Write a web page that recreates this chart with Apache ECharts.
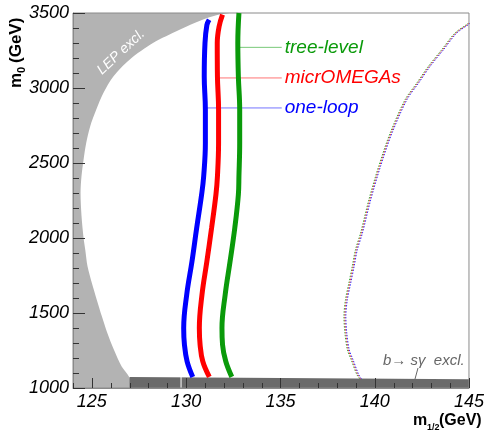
<!DOCTYPE html>
<html>
<head>
<meta charset="utf-8">
<script src="https://cdn.jsdelivr.net/npm/echarts@6/dist/echarts.min.js"></script>
<style>
  html, body { margin: 0; padding: 0; background: #fff; }
  #chart { width: 487px; height: 433px; }
</style>
</head>
<body>
<div id="chart"></div>
<script>
// axis ticks
var xTicks = [125, 130, 135, 140, 145];
var yTicks = [1000, 1500, 2000, 2500, 3000, 3500];
var xMinorStep = 1, yMinorStep = 100;

// LEP excluded region: boundary (m1/2, m0), closed outside the frame
var lepX = [123, 133.2, 132.3, 131.6, 130.87, 129.65, 128.24, 127.0, 126.14, 125.61, 125.23, 124.91, 124.7, 124.56, 124.45,
            124.4, 124.45, 124.56, 124.65, 124.77, 125.0, 125.26, 125.53, 125.82, 126.17, 126.58, 126.98, 127.2, 123];
var lepY = [3600, 3530, 3500, 3485, 3455, 3389, 3300, 3189, 3077, 2967, 2855, 2744, 2633, 2522, 2411,
            2300, 2150, 2000, 1922, 1811, 1700, 1589, 1478, 1367, 1255, 1144, 1073, 960, 900];

// b -> s gamma excluded band
var bsgX = [127.0, 127.0, 145, 145];
var bsgY = [1000, 1074, 1058, 1000];
var bandGapX = 129.73;

// relic density contours (thick)
var oneLoopX = [130.35, 130.05, 129.91, 129.87, 130.03, 130.31, 130.56, 130.82, 130.93, 131.02, 131.02, 130.96, 131.0, 131.1, 131.22];
var oneLoopY = [1074, 1178, 1289, 1400, 1622, 1844, 2067, 2289, 2411, 2633, 2855, 3077, 3300, 3420, 3455];
var microX = [131.23, 130.88, 130.74, 130.7, 130.84, 131.1, 131.35, 131.58, 131.66, 131.72, 131.72, 131.66, 131.65, 131.75, 131.93];
var microY = [1074, 1178, 1289, 1400, 1622, 1844, 2067, 2289, 2411, 2633, 2855, 3077, 3300, 3411, 3489];
var treeX = [132.42, 132.1, 131.93, 131.9, 132.07, 132.33, 132.58, 132.77, 132.8, 132.84, 132.84, 132.77, 132.74, 132.8];
var treeY = [1074, 1178, 1289, 1400, 1622, 1844, 2067, 2289, 2411, 2633, 2855, 3077, 3300, 3500];

// thin dotted contours on the right
var dotX = [139.25, 139.1, 138.8, 138.6, 138.47, 138.42, 138.5, 138.68, 138.86, 139.03, 139.3, 139.74, 140.26, 140.87, 141.66, 142.28, 142.89, 143.6, 144.3, 144.91, 145.0];
var dotY = [1062, 1090, 1189, 1255, 1367, 1478, 1589, 1700, 1811, 1922, 2033, 2255, 2478, 2700, 2922, 3033, 3144, 3255, 3366, 3422, 3432];
var dotShift = { tree: -0.05, micro: 0, loop: 0.05 };

// legend pointer lines
var legendEndX = 135.07;
var legendTree = [[132.8, 3271], [legendEndX, 3271]];
var legendMicro = [[131.66, 3067], [legendEndX, 3067]];
var legendLoop = [[131.0, 2867], [legendEndX, 2867]];

var xMin = 124, xMax = 145, yMin = 1000, yMax = 3500;
var green = '#0a9a0a', red = '#ff0000', blue = '#0000ff';
var tickColor = '#333333';
var font = '"Liberation Sans", Arial, sans-serif';

function pairs(xs, ys, dx) {
  return xs.map(function (x, i) { return [x + (dx || 0), ys[i]]; });
}

function polygon(name, xs, ys, color, z, smooth) {
  return {
    type: 'custom', name: name, silent: true, z: z, clip: true,
    data: pairs(xs, ys),
    renderItem: function (params, api) {
      if (params.dataIndex !== 0) return null;
      var pts = xs.map(function (x, i) { return api.coord([x, ys[i]]); });
      return { type: 'polygon', shape: { points: pts, smooth: smooth || 0 }, style: { fill: color } };
    }
  };
}

function curve(xs, ys, color, z) {
  return {
    type: 'line', data: pairs(xs, ys), smooth: 0.4, symbol: 'none', z: z,
    lineStyle: { color: color, width: 5 }
  };
}

function dotted(dx, color) {
  return {
    type: 'line', data: pairs(dotX, dotY, dx), smooth: 0.3, symbol: 'none', z: 4,
    lineStyle: { color: color, width: 1, type: [1.5, 1.5], opacity: 0.8 }
  };
}

function pointer(pts, color, text) {
  return {
    type: 'line', data: pts, symbol: 'none', z: 3,
    lineStyle: { color: color, width: 1, opacity: 0.55 },
    endLabel: {
      show: true, formatter: text, color: color, distance: 3,
      fontFamily: font, fontStyle: 'italic', fontSize: 19
    }
  };
}

// inside ticks, drawn on top of the filled regions
function tickLine(x1, y1, x2, y2) {
  return { type: 'line', shape: { x1: x1, y1: y1, x2: x2, y2: y2 }, style: { stroke: tickColor, lineWidth: 1 } };
}
var tickSeries = {
  type: 'custom', silent: true, z: 20, data: [[xMin, yMin]],
  renderItem: function (params, api) {
    var kids = [], v, p;
    for (v = xMin; v <= xMax; v += xMinorStep) {
      p = api.coord([v, yMin]);
      var len = xTicks.indexOf(v) >= 0 ? 10 : 5;
      kids.push(tickLine(Math.round(p[0]) + 0.5, p[1], Math.round(p[0]) + 0.5, p[1] - len));
    }
    for (v = yMin; v <= yMax; v += yMinorStep) {
      p = api.coord([xMin, v]);
      var len2 = yTicks.indexOf(v) >= 0 ? 12 : 6;
      kids.push(tickLine(p[0], Math.round(p[1]) + 0.5, p[0] + len2, Math.round(p[1]) + 0.5));
    }
    return { type: 'group', children: kids };
  }
};

var chart = echarts.init(document.getElementById('chart'));
chart.setOption({
  animation: false,
  grid: { left: 73, right: 15, top: 13, bottom: 45, show: true, borderColor: '#8a8a8a', borderWidth: 1, backgroundColor: 'transparent' },
  xAxis: {
    type: 'value', min: xMin, max: xMax, position: 'bottom',
    axisLine: { show: true, lineStyle: { color: '#8a8a8a' } },
    axisTick: { show: false },
    axisLabel: { customValues: xTicks, color: '#000', fontFamily: font, fontStyle: 'italic', fontSize: 18, margin: 5 },
    splitLine: { show: false }
  },
  yAxis: {
    type: 'value', min: yMin, max: yMax, interval: 500,
    axisLine: { show: true, lineStyle: { color: '#8a8a8a' } },
    axisTick: { show: false },
    axisLabel: {
      color: '#000', fontFamily: font, fontStyle: 'italic', fontSize: 18, margin: 4,
      formatter: function (v) { return String(v); }
    },
    splitLine: { show: false }
  },
  series: [
    polygon('LEP', lepX, lepY, '#b3b3b3', -2, 0.3),
    polygon('bsg', bsgX, bsgY, '#6a6a6a', -2, 0),
    {
      type: 'line', data: [[bandGapX, 1000], [bandGapX, 1074]], symbol: 'none', z: -1,
      lineStyle: { color: '#ffffff', width: 1 }
    },
    pointer(legendTree, green, 'tree-level'),
    pointer(legendMicro, red, 'micrOMEGAs'),
    pointer(legendLoop, blue, 'one-loop'),
    dotted(dotShift.tree, green),
    dotted(dotShift.micro, red),
    dotted(dotShift.loop, blue),
    curve(oneLoopX, oneLoopY, blue, 5),
    curve(microX, microY, red, 5),
    curve(treeX, treeY, green, 5),
    tickSeries
  ],
  graphic: [
    { type: 'text', x: 121, y: 52, rotation: 43 * Math.PI / 180, silent: true,
      style: { text: 'LEP excl.', fill: '#fff', font: 'italic 14px ' + font, align: 'center', verticalAlign: 'middle' } },
    { type: 'text', x: 383, y: 361, silent: true,
      style: { text: 'b\u2192 s\u03b3  excl.', fill: '#666', font: 'italic 15px ' + font, align: 'left', verticalAlign: 'middle' } },
    { type: 'line', silent: true, shape: { x1: 418, y1: 368, x2: 415, y2: 379 }, style: { stroke: '#666', lineWidth: 1 } },
    // x axis title
    { type: 'text', x: 413, y: 421, silent: true,
      style: { text: 'm', fill: '#000', font: 'bold 16px ' + font, align: 'left', verticalAlign: 'middle' } },
    { type: 'text', x: 427, y: 428, silent: true,
      style: { text: '1/2', fill: '#000', font: 'bold 9px ' + font, align: 'left', verticalAlign: 'middle' } },
    { type: 'text', x: 439, y: 421, silent: true,
      style: { text: '(GeV)', fill: '#000', font: 'bold 16px ' + font, align: 'left', verticalAlign: 'middle' } },
    // y axis title
    { type: 'text', x: 16, y: 88, rotation: Math.PI / 2, silent: true,
      style: { text: 'm', fill: '#000', font: 'bold 17px ' + font, align: 'left', verticalAlign: 'middle' } },
    { type: 'text', x: 22, y: 73, rotation: Math.PI / 2, silent: true,
      style: { text: '0', fill: '#000', font: 'bold 11px ' + font, align: 'left', verticalAlign: 'middle' } },
    { type: 'text', x: 16, y: 63, rotation: Math.PI / 2, silent: true,
      style: { text: '(GeV)', fill: '#000', font: 'bold 17px ' + font, align: 'left', verticalAlign: 'middle' } }
  ]
});
</script>
</body>
</html>
